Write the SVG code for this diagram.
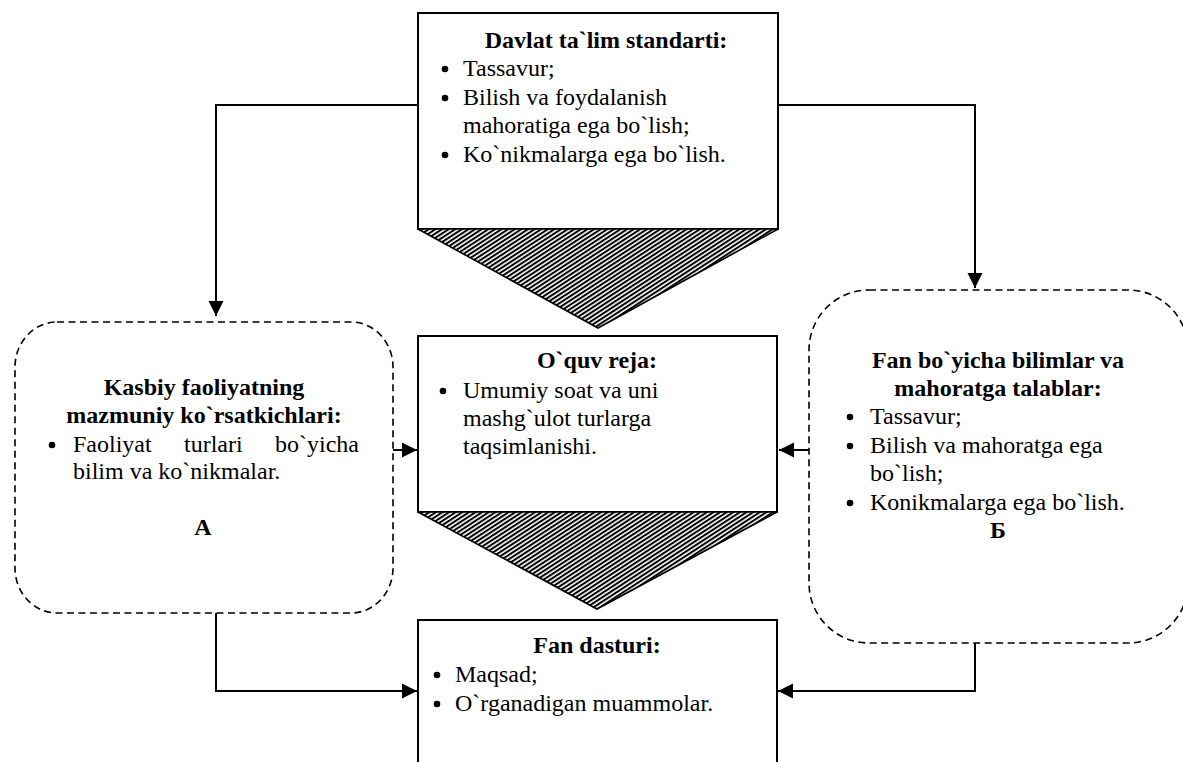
<svg xmlns="http://www.w3.org/2000/svg" width="1183" height="762" viewBox="0 0 1183 762" font-family="'Liberation Serif', 'DejaVu Serif', serif" font-size="24">
<style>
.t{font-family:'Liberation Serif','DejaVu Serif',serif;font-size:24px;fill:#000}
.b{font-family:'Liberation Serif','DejaVu Serif',serif;font-size:24px;font-weight:bold;text-anchor:middle;fill:#000}
.box{fill:#fff;stroke:#000;stroke-width:2}
.dash{fill:#fff;stroke:#000;stroke-width:1.6;stroke-dasharray:7 4.5}
.tri{fill:url(#hatch);stroke:#000;stroke-width:1.6}
.con{fill:none;stroke:#000;stroke-width:2;marker-end:url(#arr)}
.dot{fill:#000}
</style>
<defs>
<pattern id="hatch" patternUnits="userSpaceOnUse" width="4" height="3.6" patternTransform="rotate(-33)">
<rect width="4" height="3.6" fill="#fff"/>
<rect width="4" height="2" fill="#000"/>
</pattern>
<marker id="arr" markerUnits="userSpaceOnUse" markerWidth="16" markerHeight="16" refX="15" refY="7.5" orient="auto" viewBox="0 0 16 15">
<path d="M0,0 L15,7.5 L0,15 z" fill="#000"/>
</marker>
</defs>

<g id="connectors">
<polyline class="con" points="418,105 216,105 216,316"/>
<polyline class="con" points="778,105 975,105 975,288"/>
<polyline class="con" points="393,450 417,450"/>
<polyline class="con" points="809,450 779,450"/>
<polyline class="con" points="216,613 216,691 417,691"/>
<polyline class="con" points="975,643 975,691 778,691"/>
</g>

<g id="node-davlat">
<rect class="box" x="418" y="13" width="360" height="216"/>
<polygon class="tri" points="418,229 778,229 598,328"/>
<text class="b" x="606" y="48">Davlat ta`lim standarti:</text>
<circle class="dot" cx="445" cy="69" r="3.3"/>
<text class="t" x="463" y="76">Tassavur;</text>
<circle class="dot" cx="445" cy="98" r="3.3"/>
<text class="t" x="463" y="105">Bilish va foydalanish</text>
<text class="t" x="463" y="133">mahoratiga ega bo`lish;</text>
<circle class="dot" cx="445" cy="155" r="3.3"/>
<text class="t" x="463" y="162">Ko`nikmalarga ega bo`lish.</text>
</g>

<g id="node-oquv">
<rect class="box" x="418" y="336" width="359" height="176"/>
<polygon class="tri" points="418,512 777,512 597,609"/>
<text class="b" x="597" y="368">O`quv reja:</text>
<circle class="dot" cx="443" cy="391" r="3.3"/>
<text class="t" x="463" y="398">Umumiy soat va uni</text>
<text class="t" x="463" y="426">mashg`ulot turlarga</text>
<text class="t" x="463" y="454">taqsimlanishi.</text>
</g>

<g id="node-fan">
<rect class="box" x="418" y="620" width="359" height="170"/>
<text class="b" x="597" y="653">Fan dasturi:</text>
<circle class="dot" cx="437" cy="675" r="3.3"/>
<text class="t" x="455" y="682">Maqsad;</text>
<circle class="dot" cx="437" cy="704" r="3.3"/>
<text class="t" x="455" y="711">O`rganadigan muammolar.</text>
</g>

<g id="node-kasbiy">
<rect class="dash" x="15" y="322" width="378" height="291" rx="42" ry="45"/>
<text class="b" x="204" y="395">Kasbiy faoliyatning</text>
<text class="b" x="204" y="423">mazmuniy ko`rsatkichlari:</text>
<circle class="dot" cx="52" cy="445" r="3.3"/>
<text class="t" x="73" y="452">Faoliyat</text>
<text class="t" x="184" y="452">turlari</text>
<text class="t" x="359" y="452" text-anchor="end">bo`yicha</text>
<text class="t" x="73" y="479">bilim va ko`nikmalar.</text>
<text class="b" x="203" y="535">А</text>
</g>

<g id="node-fanbo">
<rect class="dash" x="809" y="290" width="379" height="353" rx="60" ry="60"/>
<text class="b" x="998" y="368">Fan bo`yicha bilimlar va</text>
<text class="b" x="998" y="396">mahoratga talablar:</text>
<circle class="dot" cx="850" cy="417" r="3.3"/>
<text class="t" x="870" y="424">Tassavur;</text>
<circle class="dot" cx="850" cy="446" r="3.3"/>
<text class="t" x="870" y="453">Bilish va mahoratga ega</text>
<text class="t" x="870" y="481">bo`lish;</text>
<circle class="dot" cx="850" cy="503" r="3.3"/>
<text class="t" x="870" y="510">Konikmalarga ega bo`lish.</text>
<text class="b" x="998" y="538">Б</text>
</g>
</svg>
